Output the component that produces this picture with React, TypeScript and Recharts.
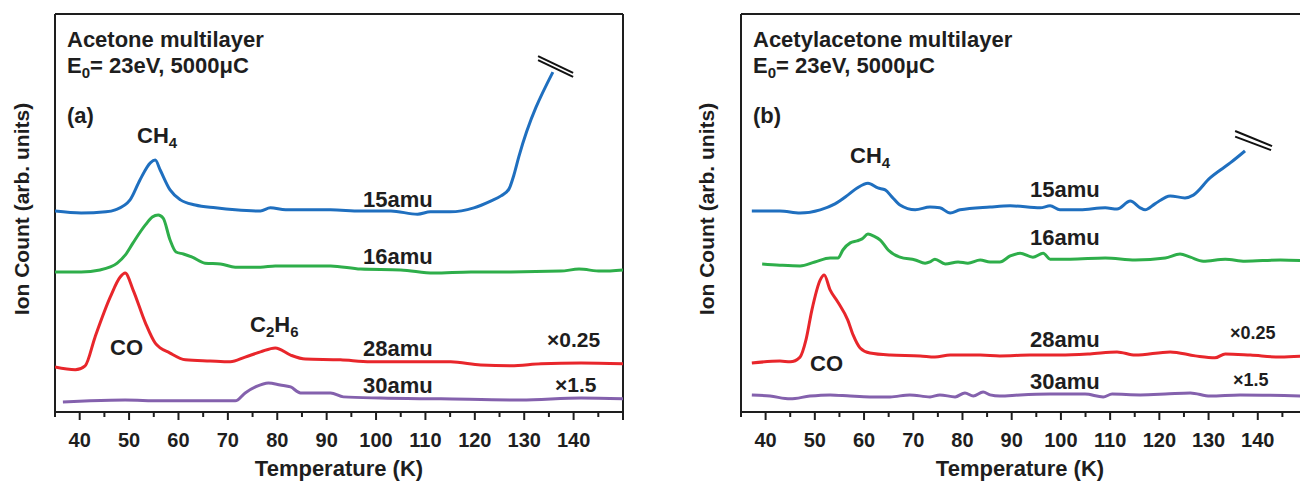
import React from "react";
import { LineChart, Line, XAxis, YAxis, ReferenceLine } from "recharts";

// temperature axis (K)
const tempTicks = [35, 40, 45, 50, 55, 60, 65, 70, 75, 80, 85, 90, 95, 100, 105, 110, 115, 120, 125, 130, 135, 140, 145, 150];
const labelledTicks = [40, 50, 60, 70, 80, 90, 100, 110, 120, 130, 140];

// (a) acetone multilayer, [T (K), ion count (arb.)]
const acetone15amu: [number, number][] = [
  [35, 50.5], [40.3, 50.0], [45.3, 50.3], [47.2, 50.8], [50.2, 53.3], [52.2, 58.3], [54.3, 62.6],
  [55.3, 63.3], [56.3, 60.8], [58.3, 55.8], [60.4, 53.3], [63.4, 52.0], [67.5, 51.3], [71.5, 50.8],
  [76.6, 50.5], [78.6, 51.3], [81.7, 50.8], [84.7, 50.8], [90.8, 50.8], [96.9, 50.5], [103, 50.5],
  [108.4, 49.7], [111, 50.3], [115, 50.3], [119.8, 51.3], [123.2, 53.0], [125.3, 54.3], [126.9, 56.0],
  [127.9, 59.5], [128.9, 64.1], [135.8, 85.4],
];
const acetone16amu: [number, number][] = [
  [35, 35.2], [40.3, 35.2], [44.1, 35.7], [47.6, 37.4], [49.2, 39.4], [50.8, 42.5], [53.3, 47.0],
  [54.7, 49.0], [55.9, 49.5], [56.9, 48.7], [58.3, 43.2], [59.5, 40.2], [61, 39.7], [62.8, 38.9],
  [65.4, 37.4], [68.5, 37.2], [71.5, 36.4], [76.6, 36.4], [79.6, 36.7], [84.7, 36.7], [90.8, 36.7],
  [96.9, 35.9], [105, 35.7], [111.7, 34.9], [119.2, 35.2], [127.3, 35.2], [137.4, 35.4], [141.1, 35.9],
  [145.5, 35.4], [150, 35.7],
];
const acetone28amu: [number, number][] = [
  [35, 11.3], [39.1, 10.6], [41.1, 11.6], [43.1, 18.8], [46.2, 28.9], [48.2, 33.9], [49.2, 34.9],
  [50.8, 30.7], [53.3, 22.4], [55.3, 17.3], [58.3, 14.8], [61.4, 13.1], [66.4, 12.8], [70.5, 12.6],
  [73.5, 13.8], [76.6, 15.1], [79.6, 16.1], [82.7, 14.3], [85.7, 13.3], [92.8, 13.1], [98.9, 12.6],
  [109, 12.6], [115.1, 12.6], [121.2, 11.8], [127.3, 11.6], [133.4, 12.1], [141.5, 12.3], [150, 12.1],
];
const acetone30amu: [number, number][] = [
  [36.6, 2.5], [42.1, 2.8], [49.2, 3.0], [56.3, 2.8], [64.4, 2.8], [71.5, 2.8], [73.5, 4.8],
  [75.6, 6.3], [78.2, 7.3], [80.6, 6.8], [82.7, 6.3], [84.7, 4.8], [90.8, 4.8], [93.4, 3.8],
  [100.9, 3.5], [113.1, 3.3], [129.3, 3.0], [141.5, 3.5], [150, 3.3],
];

// (b) acetylacetone multilayer
const acac15amu: [number, number][] = [
  [37.2, 50.5], [42.9, 50.5], [47.0, 50.0], [51.1, 50.8], [54.1, 52.3], [56.7, 54.5], [58.6, 56.3],
  [60.8, 57.5], [62.8, 56.3], [64.3, 55.8], [65.7, 54.0], [67.3, 52.0], [70.4, 50.8], [73.4, 51.5],
  [75.4, 51.3], [77.5, 50.0], [79.5, 50.8], [85.6, 51.5], [89.7, 51.8], [95.8, 51.3], [97.8, 51.8],
  [99.8, 50.8], [103.9, 50.8], [109.0, 51.3], [111.4, 51.0], [114.1, 53.0], [116.1, 51.3], [117.1, 50.8],
  [119.1, 52.3], [122.2, 54.3], [125.2, 53.8], [126.9, 54.5], [130.3, 58.8], [132.4, 60.8],
  [134.4, 62.6], [137.4, 65.6],
];
const acac16amu: [number, number][] = [
  [39.3, 37.2], [42.9, 36.9], [47.0, 36.7], [50.0, 37.7], [53.1, 38.7], [54.7, 38.7], [55.7, 40.7],
  [57.2, 42.5], [58.6, 43.0], [59.6, 43.5], [60.8, 44.7], [62.0, 44.2], [63.3, 43.2], [64.9, 40.7],
  [67.3, 38.9], [70.4, 38.2], [72.4, 37.4], [73.4, 37.7], [74.4, 38.4], [76.5, 37.2], [79.1, 37.7],
  [81.1, 37.4], [83.6, 38.2], [85.6, 37.7], [87.6, 37.7], [89.7, 39.2], [91.7, 39.9], [94.3, 38.9],
  [96.4, 39.9], [97.8, 38.4], [101.9, 38.4], [109.0, 38.7], [115.1, 38.2], [121.2, 38.7], [124.2, 39.7],
  [126.3, 38.9], [128.9, 37.9], [133.4, 38.4], [137.4, 37.9], [144.6, 38.2], [150, 38.0],
];
const acac28amu: [number, number][] = [
  [37.2, 12.3], [42.9, 12.8], [45.0, 12.6], [47.0, 13.8], [48.2, 18.1], [49.4, 25.6], [51.1, 33.2],
  [51.9, 34.4], [53.1, 30.7], [54.7, 27.6], [56.7, 23.1], [57.8, 19.3], [59.2, 16.1], [61.2, 14.8],
  [65.3, 14.3], [71.4, 14.1], [74.4, 13.8], [77.5, 14.3], [83.6, 14.3], [87.6, 14.1], [93.7, 14.3],
  [99.8, 14.3], [105.9, 14.6], [111.4, 15.1], [115.1, 14.3], [122.2, 15.1], [127.3, 14.1], [131.3, 13.6],
  [133.4, 14.6], [138.5, 14.3], [144.6, 13.8], [150, 14.1],
];
const acac30amu: [number, number][] = [
  [37.2, 4.3], [40.9, 4.0], [45.0, 3.3], [49.0, 4.0], [53.1, 4.3], [57.2, 4.0], [61.2, 3.8],
  [65.3, 3.8], [69.3, 4.3], [73.4, 3.8], [75.4, 4.3], [78.5, 3.8], [80.5, 4.8], [82.2, 4.0],
  [84.2, 5.0], [85.6, 4.3], [87.6, 4.0], [91.7, 4.3], [97.8, 4.5], [104.9, 4.5], [108.6, 3.8],
  [110.4, 4.5], [116.1, 4.3], [121.2, 4.5], [126.3, 4.8], [130.3, 4.0], [136.4, 4.3], [150, 4.0],
];

// axis-break marks drawn past the end of the 15amu traces
const breakA = [
  [[132.8, 89.4], [139.9, 85.2]],
  [[132.8, 88.4], [139.9, 84.2]],
];
const breakB = [
  [[135.4, 70.6], [142.9, 66.8]],
  [[135.4, 69.2], [142.7, 65.8]],
];

const INK = "#1e1e1e";
const FONT = "'Liberation Sans', Arial, Helvetica, sans-serif";
const COLORS = { m15: "#1f6fbf", m16: "#2eae4a", m28: "#e8262b", m30: "#8461ad" };

const toRows = (pts: [number, number][]) => pts.map(([t, v]) => ({ t, v }));

const BottomTick = (props: any) => {
  const { x, y, payload } = props;
  const val = payload.value;
  const major = val % 10 === 0;
  return (
    <g>
      <line x1={x} x2={x} y1={y} y2={y + (major ? 8 : 5)} stroke={INK} strokeWidth={2} />
      {labelledTicks.includes(val) && (
        <text x={x} y={y + 35} textAnchor="middle" fontFamily={FONT} fontWeight="bold" fontSize={20} fill={INK}>
          {val}
        </text>
      )}
    </g>
  );
};

const TopTick = (props: any) => {
  const { x, y, payload } = props;
  const major = payload.value % 10 === 0;
  return <line x1={x} x2={x} y1={y} y2={y + (major ? 8 : 5)} stroke={INK} strokeWidth={2} />;
};

type Series = { pts: [number, number][]; color: string };

function Panel({ width, series, breaks }: { width: number; series: Series[]; breaks: number[][][] }) {
  return (
    <LineChart width={width} height={481} margin={{ top: 0, right: 17, bottom: 0, left: 55 }}>
      <XAxis
        xAxisId="b"
        type="number"
        dataKey="t"
        domain={[35, 150]}
        ticks={tempTicks}
        interval={0}
        height={69}
        tickSize={0}
        tickMargin={0}
        tickLine={false}
        axisLine={{ stroke: INK, strokeWidth: 2 }}
        tick={<BottomTick />}
        allowDataOverflow
      />
      <XAxis
        xAxisId="t"
        orientation="top"
        type="number"
        domain={[35, 150]}
        ticks={tempTicks}
        interval={0}
        height={14}
        tickSize={0}
        tickMargin={0}
        tickLine={false}
        axisLine={{ stroke: INK, strokeWidth: 2 }}
        tick={<TopTick />}
        allowDataOverflow
      />
      <YAxis hide type="number" domain={[0, 100]} allowDataOverflow />
      <ReferenceLine xAxisId="b" x={35} stroke={INK} strokeWidth={2} />
      <ReferenceLine xAxisId="b" x={150} stroke={INK} strokeWidth={2} />
      {series.map((s, i) => (
        <Line
          key={i}
          xAxisId="b"
          data={toRows(s.pts)}
          dataKey="v"
          type="monotone"
          stroke={s.color}
          strokeWidth={3}
          dot={false}
          activeDot={false}
          isAnimationActive={false}
        />
      ))}
      {breaks.map((seg, i) => (
        <ReferenceLine
          key={"br" + i}
          xAxisId="b"
          segment={[{ x: seg[0][0], y: seg[0][1] }, { x: seg[1][0], y: seg[1][1] }]}
          stroke="#111"
          strokeWidth={2}
          ifOverflow="visible"
        />
      ))}
    </LineChart>
  );
}

const txt = { fontFamily: FONT, fontWeight: "bold" as const, fill: INK };

export default function App() {
  return (
    <div style={{ position: "fixed", left: 0, top: 0, width: 1300, height: 481, overflow: "hidden", background: "#fff" }}>
      <div style={{ position: "absolute", left: 0, top: 0 }}>
        <Panel
          width={640}
          series={[
            { pts: acetone15amu, color: COLORS.m15 },
            { pts: acetone16amu, color: COLORS.m16 },
            { pts: acetone28amu, color: COLORS.m28 },
            { pts: acetone30amu, color: COLORS.m30 },
          ]}
          breaks={breakA}
        />
      </div>
      <div style={{ position: "absolute", left: 686, top: 0 }}>
        <Panel
          width={638}
          series={[
            { pts: acac15amu, color: COLORS.m15 },
            { pts: acac16amu, color: COLORS.m16 },
            { pts: acac28amu, color: COLORS.m28 },
            { pts: acac30amu, color: COLORS.m30 },
          ]}
          breaks={breakB}
        />
      </div>
      <svg width={1300} height={481} style={{ position: "absolute", left: 0, top: 0, pointerEvents: "none" }}>
        {/* panel (a) */}
        <text x={67} y={47} fontSize={22} {...txt}>Acetone multilayer</text>
        <text x={67} y={73} fontSize={22} {...txt}>
          E<tspan dy={5} fontSize={15}>0</tspan><tspan dy={-5}>= 23eV, 5000μC</tspan>
        </text>
        <text x={67} y={123} fontSize={22} {...txt}>(a)</text>
        <text x={137} y={143} fontSize={22} {...txt}>
          CH<tspan dy={5} fontSize={15}>4</tspan>
        </text>
        <text x={363} y={207} fontSize={22} {...txt}>15amu</text>
        <text x={363} y={264} fontSize={22} {...txt}>16amu</text>
        <text x={250} y={332} fontSize={22} {...txt}>
          C<tspan dy={5} fontSize={15}>2</tspan><tspan dy={-5}>H</tspan><tspan dy={5} fontSize={15}>6</tspan>
        </text>
        <text x={110} y={355} fontSize={22} {...txt}>CO</text>
        <text x={363} y={356} fontSize={22} {...txt}>28amu</text>
        <text x={547} y={347} fontSize={21} {...txt}>×0.25</text>
        <text x={363} y={393} fontSize={22} {...txt}>30amu</text>
        <text x={555} y={392} fontSize={21} {...txt}>×1.5</text>
        <text x={339} y={476} fontSize={22} textAnchor="middle" {...txt}>Temperature (K)</text>
        <text transform="translate(29,209) rotate(-90)" fontSize={21} textAnchor="middle" {...txt}>
          Ion Count (arb. units)
        </text>

        {/* panel (b) */}
        <text x={753} y={47} fontSize={22} {...txt}>Acetylacetone multilayer</text>
        <text x={753} y={73} fontSize={22} {...txt}>
          E<tspan dy={5} fontSize={15}>0</tspan><tspan dy={-5}>= 23eV, 5000μC</tspan>
        </text>
        <text x={753} y={123} fontSize={22} {...txt}>(b)</text>
        <text x={850} y={163} fontSize={22} {...txt}>
          CH<tspan dy={5} fontSize={15}>4</tspan>
        </text>
        <text x={1030} y={197} fontSize={22} {...txt}>15amu</text>
        <text x={1030} y={245} fontSize={22} {...txt}>16amu</text>
        <text x={1030} y={347} fontSize={22} {...txt}>28amu</text>
        <text x={1230} y={339} fontSize={18} {...txt}>×0.25</text>
        <text x={810} y={371} fontSize={22} {...txt}>CO</text>
        <text x={1030} y={389} fontSize={22} {...txt}>30amu</text>
        <text x={1233} y={386} fontSize={18} {...txt}>×1.5</text>
        <text x={1020} y={476} fontSize={22} textAnchor="middle" {...txt}>Temperature (K)</text>
        <text transform="translate(714,209) rotate(-90)" fontSize={21} textAnchor="middle" {...txt}>
          Ion Count (arb. units)
        </text>
      </svg>
    </div>
  );
}
